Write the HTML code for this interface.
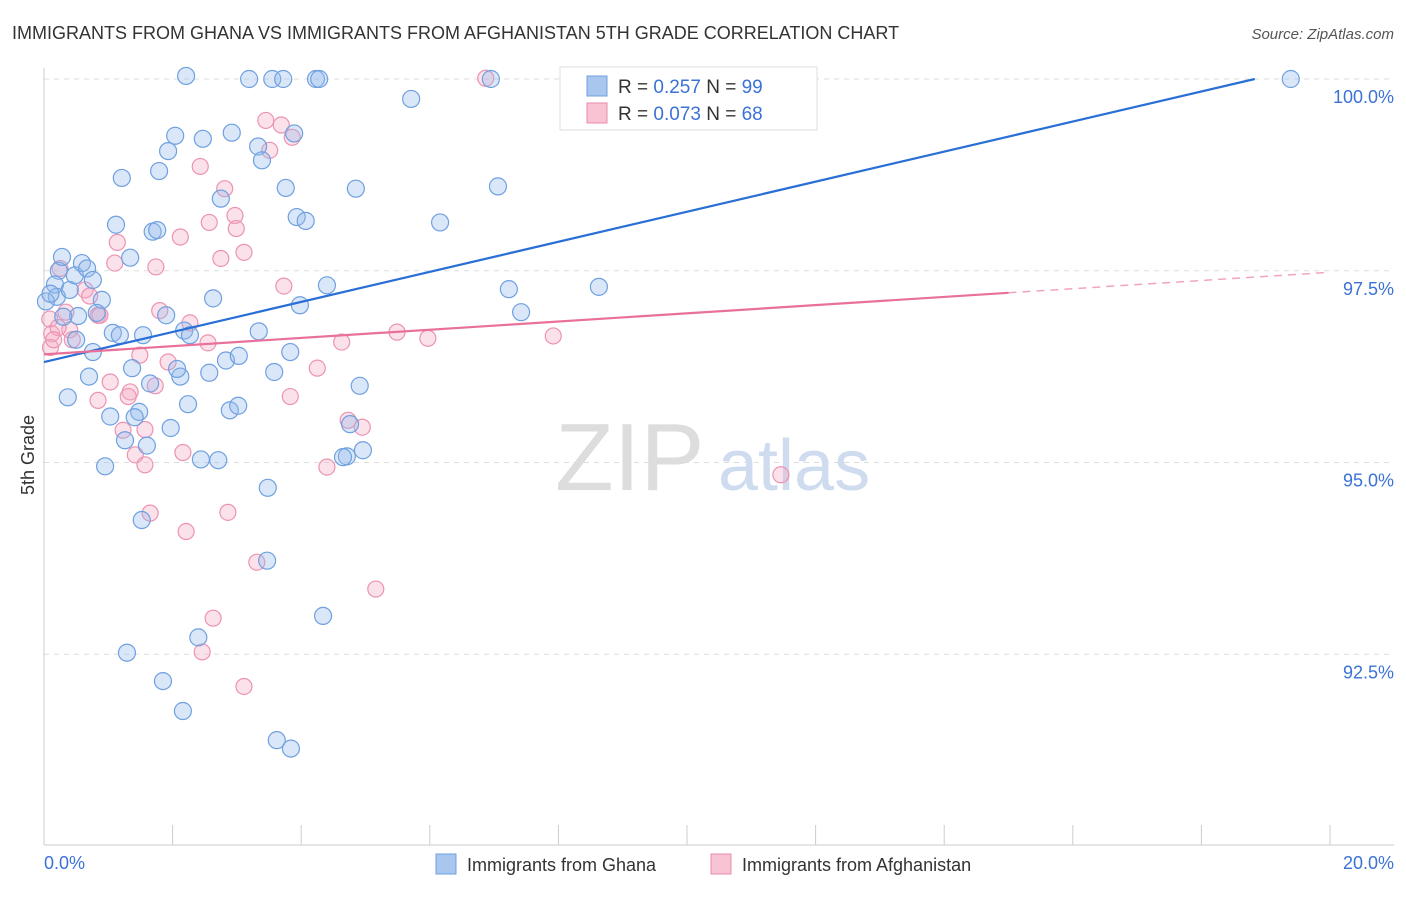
<!DOCTYPE html>
<html><head><meta charset="utf-8">
<style>
body{margin:0;background:#fff;font-family:"Liberation Sans",sans-serif;}
svg text{font-family:"Liberation Sans",sans-serif;}
</style></head>
<body>
<svg id="chart" width="1406" height="892" viewBox="0 0 1406 892" xmlns="http://www.w3.org/2000/svg">
<text x="12" y="39" font-size="18" fill="#333">IMMIGRANTS FROM GHANA VS IMMIGRANTS FROM AFGHANISTAN 5TH GRADE CORRELATION CHART</text>
<text x="1394" y="39" font-size="15" fill="#555" font-style="italic" text-anchor="end">Source: ZipAtlas.com</text>
<g id="grid"></g>
<text x="555" y="490" font-size="96" fill="#ddd" font-family="Liberation Serif">ZIP</text>
<text x="718" y="490" font-size="72" fill="#cfdcf0">atlas</text>
<g id="pts"></g>
<g id="lines"></g>
<text transform="translate(34,455) rotate(-90)" font-size="18" fill="#333" text-anchor="middle">5th Grade</text>
<text x="44" y="869" font-size="18" fill="#3b72d6">0.0%</text>
<text x="1394" y="869" font-size="18" fill="#3b72d6" text-anchor="end">20.0%</text>
<g>
<rect x="560" y="67" width="257" height="63" fill="#fff" stroke="#ddd"/>
<rect x="587" y="76" width="20" height="20" fill="#a9c6ef" stroke="#6fa0e0"/>
<rect x="587" y="103" width="20" height="20" fill="#f8c4d4" stroke="#e98bab"/>
<text x="618" y="93" font-size="19" fill="#333">R = <tspan fill="#3b72d6">0.257</tspan>   N = <tspan fill="#3b72d6">99</tspan></text>
<text x="618" y="120" font-size="19" fill="#333">R = <tspan fill="#3b72d6">0.073</tspan>   N = <tspan fill="#3b72d6">68</tspan></text>
</g>
<g>
<rect x="436" y="854" width="20" height="20" fill="#a9c6ef" stroke="#6fa0e0"/>
<text x="467" y="871" font-size="18" fill="#333">Immigrants from Ghana</text>
<rect x="711" y="854" width="20" height="20" fill="#f8c4d4" stroke="#e98bab"/>
<text x="742" y="871" font-size="18" fill="#333">Immigrants from Afghanistan</text>
</g>
</svg>
<script>
const yTicks=[100,97.5,95,92.5];
const yTickLabels=["100.0%","97.5%","95.0%","92.5%"];
const xTicks=[0,2,4,6,8,10,12,14,16,18,20];
const ghanaX=[0.23,0.28,0.17,0.2,0.4,0.48,0.59,0.67,0.76,0.9,0.82,0.53,0.76,0.7,0.37,1.07,1.18,1.03,0.95,1.37,1.48,1.41,1.26,1.6,1.65,1.54,1.34,1.21,1.12,1.69,1.76,1.79,1.93,2.04,2.21,2.47,2.92,3.19,3.55,3.72,4.23,4.28,5.71,6.95,8.23,9.63,19.39,3.33,3.39,3.76,3.89,2.75,2.63,1.9,2.18,2.27,2.12,2.07,2.57,2.83,3.03,3.34,3.83,3.58,3.98,3.93,4.07,4.4,4.85,6.16,7.06,7.23,7.42,8.63,4.91,4.96,4.71,4.65,4.76,2.24,1.97,2.44,2.71,2.89,3.02,3.48,1.52,3.47,2.4,1.29,1.85,2.16,3.62,3.84,4.34,0.03,0.1,0.3,0.5];
const ghanaY=[97.5,97.68,97.32,97.16,97.25,97.44,97.6,97.53,97.38,97.12,96.95,96.91,96.44,96.12,95.85,96.69,96.66,95.6,94.95,96.23,95.66,95.59,95.29,95.22,96.03,96.66,97.67,98.71,98.1,98.01,98.03,98.8,99.06,99.26,100.04,99.22,99.3,100,100,100,100,100,99.74,100,100.01,100.01,100,99.12,98.94,98.58,99.29,98.44,97.14,96.92,96.72,96.66,96.12,96.22,96.17,96.33,96.39,96.71,96.44,96.18,97.05,98.2,98.15,97.31,98.57,98.13,98.6,97.26,96.96,97.29,96,95.16,95.08,95.07,95.5,95.76,95.45,95.04,95.03,95.68,95.74,94.67,94.25,93.72,92.72,92.52,92.15,91.76,91.38,91.27,93,97.1,97.2,96.9,96.6];
const afgX=[0.25,0.64,0.71,0.84,0.34,0.4,0.44,0.09,0.12,1.14,1.1,1.74,2.12,1.8,2.27,2.57,2.81,2.97,2.99,3.11,2.75,2.43,3.45,3.69,3.86,3.51,3.73,2.55,1.93,1.49,1.03,0.84,1.34,1.31,1.73,1.23,1.57,1.42,1.57,2.16,3.83,4.25,4.63,5.49,5.97,7.92,4.73,4.95,4.4,1.65,2.21,2.86,3.31,2.63,2.46,3.11,5.16,6.87,10.42,11.46,0.87,0.22,0.1,0.15];
const afgY=[97.53,97.25,97.17,96.92,96.96,96.73,96.6,96.87,96.68,97.87,97.6,97.55,97.94,96.98,96.82,98.13,98.57,98.22,98.05,97.74,97.66,98.86,99.46,99.4,99.24,99.07,97.3,96.56,96.31,96.4,96.05,95.81,95.92,95.86,96,95.42,95.43,95.1,94.97,95.13,95.86,96.23,96.57,96.7,96.62,96.65,95.55,95.46,94.94,94.34,94.1,94.35,93.7,92.97,92.53,92.08,93.35,100.01,100.01,94.84,96.92,96.76,96.5,96.6];
const ghanaLine=[96.31,100]; const ghanaLineX=[0,18.83];
const afgLine=[96.41,97.48]; const afgLineX=[0,20];
const sx=v=>44+v*64.3, sy=v=>79+(100-v)*76.7;
const NS="http://www.w3.org/2000/svg";
function mk(t,a,p){const e=document.createElementNS(NS,t);for(const k in a)e.setAttribute(k,a[k]);p.appendChild(e);return e;}
const grid=document.getElementById('grid');
yTicks.forEach((v,i)=>{
 const l=mk('line',{x1:44,x2:1394,y1:sy(v),y2:sy(v),stroke:'#ddd','stroke-dasharray':'5,5'},grid);
 
 
 const t=mk('text',{x:1394,y:sy(v)+24,'font-size':18,fill:'#3b72d6','text-anchor':'end'},grid);
 t.textContent=yTickLabels[i];
 
 
});
const ax=mk('line',{x1:44,x2:44,y1:68,y2:845,stroke:'#ccc'},grid);


const bx=mk('line',{x1:44,x2:1394,y1:845,y2:845,stroke:'#ccc'},grid);


xTicks.forEach(v=>{
 const l=mk('line',{x1:sx(v),x2:sx(v),y1:825,y2:845,stroke:'#ccc'},grid);
 
 
});
const pts=document.getElementById('pts');
afgX.forEach((v,i)=>{
 const c=mk('circle',{cx:sx(v),cy:sy(afgY[i]),r:8,fill:'rgba(244,170,195,0.35)',stroke:'#ec93b2','stroke-width':1.2},pts);
 
 
});
ghanaX.forEach((v,i)=>{
 const c=mk('circle',{cx:sx(v),cy:sy(ghanaY[i]),r:8.5,fill:'rgba(150,185,235,0.35)',stroke:'#6fa0e0','stroke-width':1.2},pts);
 
 
});
const lines=document.getElementById('lines');
const gl=mk('line',{x1:sx(ghanaLineX[0]),y1:sy(ghanaLine[0]),x2:sx(ghanaLineX[1]),y2:sy(ghanaLine[1]),stroke:'#2a6fd6','stroke-width':2.2},lines);


const k=15;
const am=afgLine[0]+(afgLine[1]-afgLine[0])*k/20;
const al=mk('line',{x1:sx(0),y1:sy(afgLine[0]),x2:sx(k),y2:sy(am),stroke:'#e8709a','stroke-width':2.2},lines);


const ad=mk('line',{x1:sx(k),y1:sy(am),x2:sx(20),y2:sy(afgLine[1]),stroke:'#f0a5bf','stroke-width':1.5,'stroke-dasharray':'8,6'},lines);


</script>
</body></html>
